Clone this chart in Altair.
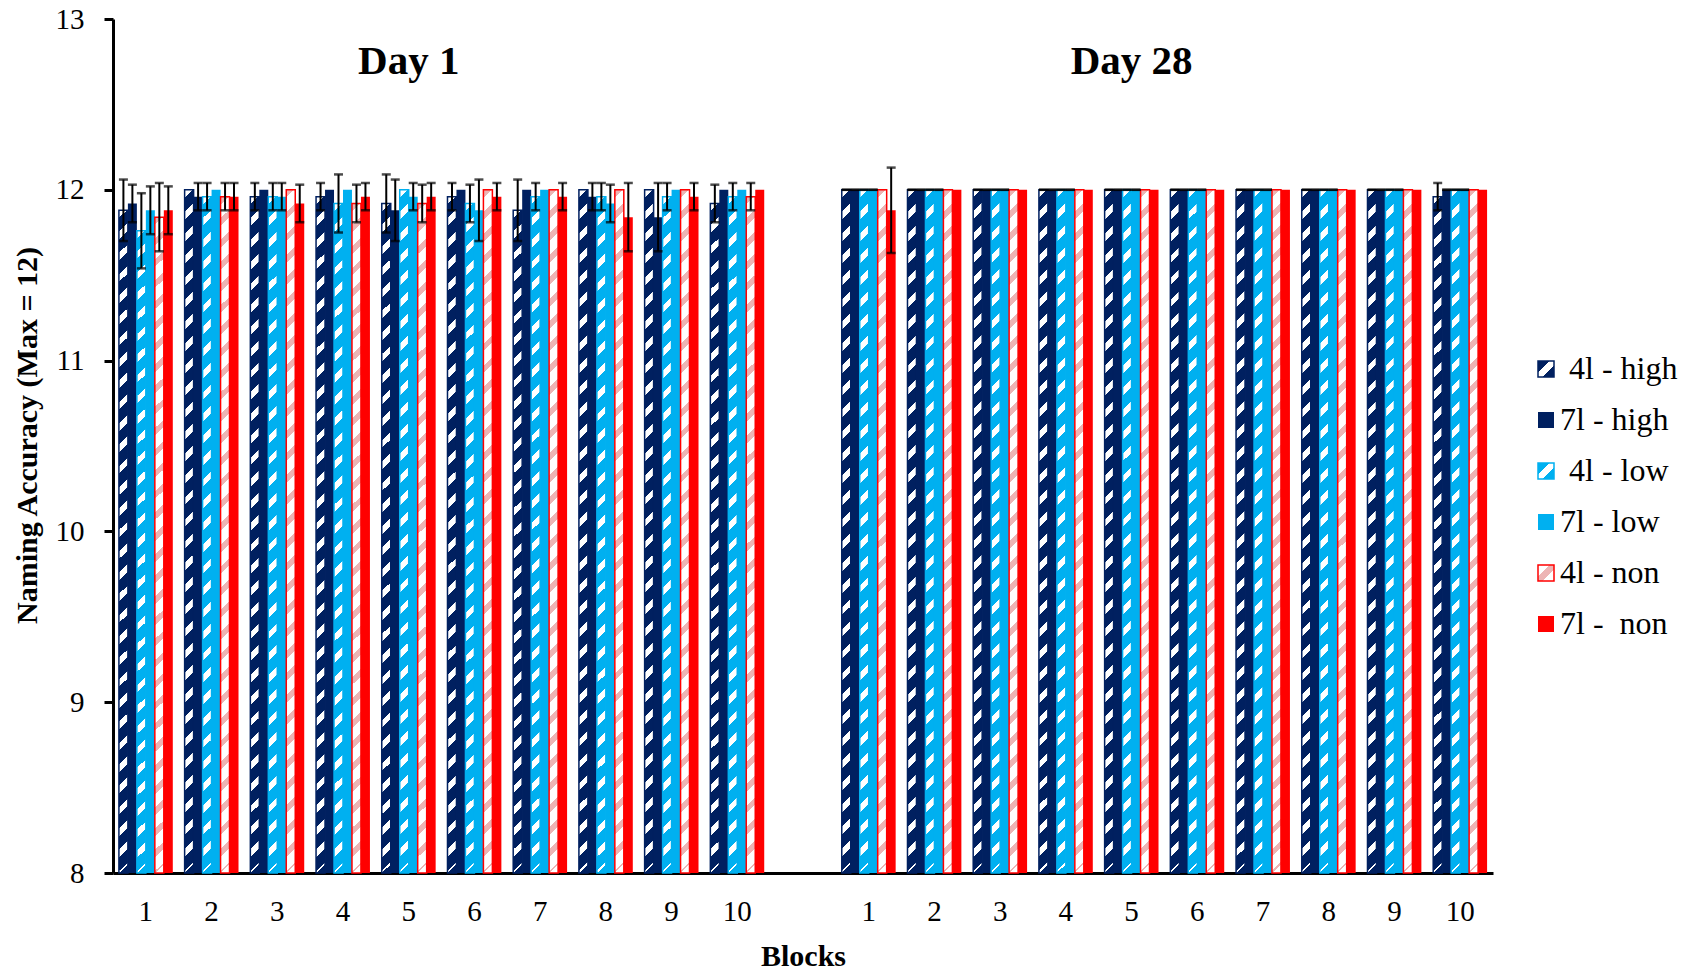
import altair as alt
import pandas as pd

FONT = "Liberation Serif"
NAVY = "#002060"
SKY = "#00B0F0"
RED = "#FF0000"
PINK = "#EDB4B4"
WHITE = "#FFFFFF"

SERIES = ["4l - high", "7l - high", "4l - low", "7l - low", "4l - non", "7l - non"]
LEGEND_LABELS = ["4l - high", "7l - high", "4l - low", "7l - low",
                 "4l - non", "7l -\u00a0 non"]
INDENTED = ["4l - high", "4l - low"]
BLOCKS = list(range(1, 11))
DAY_TITLES = ["Day 1", "Day 28"]

# Mean naming accuracy per block (Day 1)
DAY1 = {
    "4l - high": [11.88, 12.00, 11.96, 11.96, 11.92, 11.96, 11.88, 12.00, 12.00, 11.92],
    "7l - high": [11.92, 11.96, 12.00, 12.00, 11.88, 12.00, 12.00, 11.96, 11.84, 12.00],
    "4l - low":  [11.76, 11.96, 11.96, 11.92, 12.00, 11.92, 11.96, 11.96, 11.96, 11.96],
    "7l - low":  [11.88, 12.00, 11.96, 12.00, 11.96, 11.88, 12.00, 11.92, 12.00, 12.00],
    "4l - non":  [11.84, 11.96, 12.00, 11.92, 11.92, 12.00, 12.00, 12.00, 12.00, 11.96],
    "7l - non":  [11.88, 11.96, 11.92, 11.96, 11.96, 11.96, 11.96, 11.84, 11.96, 12.00],
}
# Standard errors (None = no error bar drawn)
DAY1_ERR = {
    "4l - high": [0.18, None, 0.08, 0.08, 0.17, 0.08, 0.18, None, None, 0.11],
    "7l - high": [0.11, 0.08, None, None, 0.18, None, None, 0.08, 0.20, None],
    "4l - low":  [0.22, 0.08, 0.08, 0.17, None, 0.11, 0.08, 0.08, 0.08, 0.08],
    "7l - low":  [0.14, None, 0.08, None, 0.08, 0.18, None, 0.11, None, None],
    "4l - non":  [0.20, 0.08, None, 0.11, 0.11, None, None, None, None, 0.08],
    "7l - non":  [0.14, 0.08, 0.11, 0.08, 0.08, 0.08, 0.08, 0.20, 0.08, None],
}
# Day 28
DAY28 = {
    "4l - high": [12.00, 12.00, 12.00, 12.00, 12.00, 12.00, 12.00, 12.00, 12.00, 11.96],
    "7l - high": [12.00, 12.00, 12.00, 12.00, 12.00, 12.00, 12.00, 12.00, 12.00, 12.00],
    "4l - low":  [12.00, 12.00, 12.00, 12.00, 12.00, 12.00, 12.00, 12.00, 12.00, 12.00],
    "7l - low":  [12.00, 12.00, 12.00, 12.00, 12.00, 12.00, 12.00, 12.00, 12.00, 12.00],
    "4l - non":  [12.00, 12.00, 12.00, 12.00, 12.00, 12.00, 12.00, 12.00, 12.00, 12.00],
    "7l - non":  [11.88, 12.00, 12.00, 12.00, 12.00, 12.00, 12.00, 12.00, 12.00, 12.00],
}
DAY28_ERR = {
    "4l - high": [0, 0, 0, 0, 0, 0, 0, 0, 0, 0.08],
    "7l - high": [0, 0, 0, 0, 0, 0, 0, 0, 0, 0],
    "4l - low":  [0, 0, 0, 0, 0, 0, 0, 0, 0, 0],
    "7l - low":  [0, 0, 0, 0, 0, 0, 0, 0, 0, 0],
    "4l - non":  [None] * 10,
    "7l - non":  [0.25] + [None] * 9,
}

# one slot per block, with an empty slot separating the two days
rows = []
for offset, vals, errs in [(0, DAY1, DAY1_ERR), (11, DAY28, DAY28_ERR)]:
    for s in SERIES:
        for i, b in enumerate(BLOCKS):
            rows.append({"slot": offset + i, "block": b, "series": s,
                         "value": vals[s][i], "err": errs[s][i]})
df = pd.DataFrame(rows)
err_df = df[df["err"].notna()].copy()
err_df["lo"] = err_df["value"] - err_df["err"]
err_df["hi"] = err_df["value"] + err_df["err"]

days_df = pd.DataFrame({"slot": [4, 15], "y": [12.68, 12.68], "label": DAY_TITLES})

W, H = 1380, 854
BAR_W = W / 21 * 0.82 / 6


def hatch(base, stripe, bar_w=BAR_W, bar_h=684.0, period=22.0, frac=0.36):
    """Diagonal stripe fill built from a linear gradient with hard stops."""
    a = bar_w / bar_h
    dt = period / (bar_h * (1 + a * a))
    stops = []
    k = 0
    while k * dt < 1:
        t0 = k * dt
        t1 = min(t0 + frac * dt, 1)
        t2 = min(t0 + dt, 1)
        stops += [(t0, stripe), (t1, stripe), (t1, base), (t2, base)]
        k += 1
    return {"gradient": "linear", "x1": 0, "y1": 0, "x2": round(a, 5), "y2": 1,
            "stops": [{"offset": round(o, 5), "color": c} for o, c in stops]}


def swatch_hatch(base, stripe):
    return {"gradient": "linear", "x1": 0, "y1": 0, "x2": 1, "y2": 1,
            "stops": [{"offset": 0, "color": base}, {"offset": 0.36, "color": base},
                      {"offset": 0.36, "color": stripe}, {"offset": 0.64, "color": stripe},
                      {"offset": 0.64, "color": base}, {"offset": 1, "color": base}]}


STYLE = {
    "4l - high": (NAVY, WHITE, NAVY),
    "7l - high": (NAVY, None, None),
    "4l - low": (SKY, WHITE, SKY),
    "7l - low": (SKY, None, None),
    "4l - non": (WHITE, PINK, RED),
    "7l - non": (RED, None, None),
}

X_SCALE = alt.Scale(domain=list(range(21)), paddingInner=0.18, paddingOuter=0.09)
X_AXIS = alt.Axis(
    title="Blocks", labelAngle=0, ticks=False, tickSize=0, labelPadding=24,
    labelFontSize=29, titleFontSize=30, titleFontWeight="bold", titlePadding=15,
    domainWidth=3,
    labelExpr="datum.value < 10 ? '' + (datum.value + 1) : (datum.value > 10 ? '' + (datum.value - 10) : '')",
)
Y_SCALE = alt.Scale(domain=[8, 13], zero=False, nice=False)
Y_AXIS = alt.Axis(
    title="Naming Accuracy (Max = 12)", values=[8, 9, 10, 11, 12, 13],
    tickSize=9, tickWidth=3, domainWidth=3, labelPadding=20, labelFontSize=29,
    titleFontSize=30, titleFontWeight="bold", titlePadding=13, titleY=416, format="d",
)

x_enc = alt.X("slot:O", scale=X_SCALE, axis=X_AXIS)
xo_enc = alt.XOffset("series:N", scale=alt.Scale(domain=SERIES, paddingInner=0, paddingOuter=0))


def y_enc(field):
    return alt.Y(f"{field}:Q", scale=Y_SCALE, axis=Y_AXIS)


layers = []
for s in SERIES:
    base, stripe, stroke = STYLE[s]
    if stripe:
        mark = dict(fill=hatch(base, stripe), stroke=stroke, strokeWidth=1.5)
    else:
        mark = dict(fill=base, strokeWidth=0)
    layers.append(
        alt.Chart(df).transform_filter(alt.datum.series == s)
        .mark_bar(**mark)
        .encode(x=x_enc, xOffset=xo_enc, y=y_enc("value"), y2=alt.datum(8))
    )

err_base = alt.Chart(err_df)
layers.append(err_base.mark_rule(color="black", strokeWidth=2).encode(
    x=x_enc, xOffset=xo_enc, y=y_enc("lo"), y2="hi:Q"))
layers.append(err_base.mark_tick(color="black", thickness=2.5, size=9).encode(
    x=x_enc, xOffset=xo_enc, y=y_enc("lo")))
layers.append(err_base.mark_tick(color="black", thickness=2.5, size=9).encode(
    x=x_enc, xOffset=xo_enc, y=y_enc("hi")))
layers.append(
    alt.Chart(days_df).mark_text(font=FONT, fontSize=41, fontWeight="bold",
                                 baseline="alphabetic", color="black")
    .encode(x=x_enc, y=y_enc("y"), text="label:N")
)

main = alt.layer(*layers).properties(width=W, height=H)

# legend panel: one row per series
leg_df = pd.DataFrame({"series": SERIES, "label": LEGEND_LABELS})
leg_y = alt.Y("series:N",
              scale=alt.Scale(type="point", domain=SERIES, range=[350, 605], padding=0),
              axis=None)
leg_layers = []
for s in SERIES:
    base, stripe, stroke = STYLE[s]
    if stripe:
        mark = dict(fill=swatch_hatch(base, stripe), stroke=stroke, strokeWidth=1.5)
    else:
        mark = dict(fill=base, strokeWidth=0)
    leg_layers.append(
        alt.Chart(leg_df).transform_filter(alt.datum.series == s)
        .mark_square(size=256, opacity=1, filled=True, **mark)
        .encode(x=alt.value(15), y=leg_y)
    )
is_indented = alt.FieldOneOfPredicate(field="series", oneOf=INDENTED)
for pred, shift in [(is_indented, 9), (~is_indented, 0)]:
    leg_layers.append(
        alt.Chart(leg_df).transform_filter(pred)
        .mark_text(align="left", baseline="middle", font=FONT, fontSize=32,
                   color="black", dx=shift)
        .encode(x=alt.value(29), y=leg_y, text="label:N")
    )
legend = alt.layer(*leg_layers).properties(width=150, height=H)

chart = (
    alt.hconcat(main, legend, spacing=38)
    .resolve_scale(y="independent", x="independent")
    .configure(font=FONT, background="white",
               padding={"left": 12, "top": 5, "right": 5, "bottom": 5})
    .configure_view(stroke=None)
    .configure_axis(grid=False, domainColor="black", tickColor="black",
                    labelColor="black", titleColor="black",
                    labelFont=FONT, titleFont=FONT)
)

chart.save("out.html", embed_options={"renderer": "svg", "actions": False})
